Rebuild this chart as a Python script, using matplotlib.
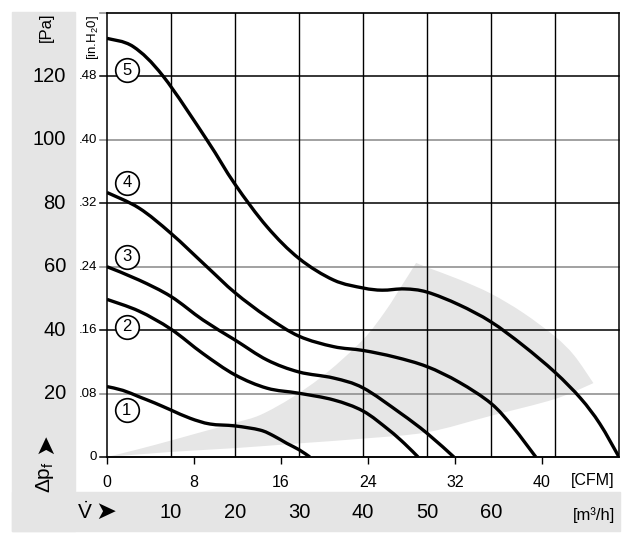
import numpy as np
import matplotlib
matplotlib.use('Agg')
import matplotlib.pyplot as plt
from matplotlib.patches import Rectangle, PathPatch
from matplotlib.path import Path

plt.rcParams['font.family'] = ['Liberation Sans', 'DejaVu Sans']
plt.rcParams['mathtext.fontset'] = 'custom'
plt.rcParams['mathtext.rm'] = 'Liberation Sans'
plt.rcParams['mathtext.it'] = 'Liberation Sans:italic'

# fan curves, x in m3/h, y in Pa
m3h_per_cfm = 1.699

c1_x = [0, 2.5, 5, 7.5, 10, 13, 16.1, 20, 23.9, 26, 28.1, 30, 31.7]
c1_y = [22.2, 21.0, 19.0, 17.0, 14.8, 12.2, 10.4, 9.8, 8.5, 6.7, 4.3, 2.3, 0]

c2_x = [0, 5, 10, 15, 20, 25, 30, 35.4, 40, 44, 46.5, 48.6]
c2_y = [49.7, 46.0, 40.3, 32.6, 25.9, 21.7, 20.1, 18.0, 14.5, 8.6, 4.2, 0]

c3_x = [0, 5, 10, 15, 20, 25, 30, 35.4, 40, 45.8, 50, 54.2]
c3_y = [60.0, 55.8, 50.6, 43.2, 36.9, 30.6, 26.8, 24.9, 21.8, 13.9, 7.5, 0]

c4_x = [0, 5, 10, 15.6, 20, 25, 30, 35.4, 40, 45, 50, 55, 60, 63.4, 67]
c4_y = [83.4, 78.5, 70.5, 60.0, 51.8, 44.2, 38.1, 34.8, 33.6, 31.5, 28.5, 23.6, 16.9, 9.5, 0]

c5_x = [0, 4.1, 8.8, 15.6, 20, 25, 30, 35.4, 40, 43, 46.5, 50, 55, 60, 65, 70, 74, 77, 80]
c5_y = [132, 129.4, 120, 100, 86, 72.6, 62.6, 55.8, 53.3, 52.6, 53.0, 52.0, 48.0, 42.6, 35.2, 26.7, 18.5, 10.5, 0]

curves_x = [c1_x, c2_x, c3_x, c4_x, c5_x]
curves_y = [c1_y, c2_y, c3_y, c4_y, c5_y]
curve_names = ['1', '2', '3', '4', '5']
name_x = [3.1, 3.1, 3.1, 3.1, 3.1]
name_y = [14.8, 41.0, 63.1, 86.4, 122.0]

# grey operating range: left edge, outer arc, lower edge
zone_left_x = [0, 5, 10, 15, 20, 24, 29.1, 34.3, 40, 43.5, 46.3, 48.3]
zone_left_y = [0, 2.5, 5.2, 8.0, 10.8, 13.3, 19, 26.5, 37, 46, 54.8, 61.2]
zone_arc_x = [48.3, 50, 55, 60, 65, 70, 73, 76]
zone_arc_y = [61.2, 59.8, 56, 51.5, 45.5, 38, 32, 23.3]
zone_low_x = [76, 70, 60, 50, 40, 30, 20, 10, 0]
zone_low_y = [23.3, 18.3, 13.0, 7.8, 5.8, 4.3, 2.8, 1.6, 0]

pa_ticks = [20, 40, 60, 80, 100, 120]
inh2o_ticks = [0, 20, 40, 60, 80, 100, 120]
inh2o_labels = ['0', '.08', '.16', '.24', '.32', '.40', '.48']
grid_pa = [0, 20, 40, 60, 80, 100, 120, 140]
grid_m3h = [10, 20, 30, 40, 50, 60, 70]
cfm_ticks = [0, 8, 16, 24, 32, 40]
m3h_labels = [10, 20, 30, 40, 50, 60]


def smooth_path(xs, ys):
    # catmull-rom through the read points, drawn as cubic bezier segments
    p = np.column_stack([xs, ys]).astype(float)
    verts = [p[0]]
    codes = [Path.MOVETO]
    n = len(p)
    for i in range(n - 1):
        p0 = p[i - 1] if i > 0 else p[i]
        p3 = p[i + 2] if i + 2 < n else p[i + 1]
        c1 = p[i] + (p[i + 1] - p0) / 6
        c2 = p[i + 1] - (p3 - p[i]) / 6
        verts += [c1, c2, p[i + 1]]
        codes += [Path.CURVE4] * 3
    return verts, codes


W, H = 642, 542
fig = plt.figure(figsize=(W / 100, H / 100), dpi=100)

def fx(x):
    return x / W

def fy(y):
    return 1 - y / H

# grey frame bands
grey = '#e5e5e5'
fig.patches.append(Rectangle((fx(12), fy(531)), 63 / W, 519 / H, transform=fig.transFigure,
                             color=grey, zorder=-2))
fig.patches.append(Rectangle((fx(12), fy(531)), 608 / W, 39 / H, transform=fig.transFigure,
                             color=grey, zorder=-2))

ax = fig.add_axes([fx(107), fy(457), 512 / W, 444 / H])
ax.set_xlim(0, 80)
ax.set_ylim(0, 140)

zv, zc = [], []
for part_x, part_y in [(zone_left_x, zone_left_y), (zone_arc_x, zone_arc_y), (zone_low_x, zone_low_y)]:
    v, c = smooth_path(part_x, part_y)
    if zv:
        v, c = v[1:], c[1:]
    zv += v
    zc += c
zv.append(zv[0])
zc.append(Path.CLOSEPOLY)
ax.add_patch(PathPatch(Path(zv, zc), facecolor='#e6e6e6', lw=0, zorder=0.5))

for i, v in enumerate(grid_pa):
    col = '#888888' if i % 2 == 1 else 'black'
    ax.axhline(v, xmin=-0.014, xmax=1, color=col, lw=1.1, clip_on=False, zorder=1)
for v in grid_m3h:
    ax.axvline(v, color='black', lw=1.0, zorder=1)

for xs, ys in zip(curves_x, curves_y):
    v, c = smooth_path(xs, ys)
    ax.add_patch(PathPatch(Path(v, c), facecolor='none', edgecolor='black', lw=2.4,
                           capstyle='butt', zorder=3))

ax.plot(name_x, name_y, 'o', ms=17, mfc='white', mec='black', mew=1.2, zorder=4)
for n, x, y in zip(curve_names, name_x, name_y):
    ax.text(x, y, n, ha='center', va='center', fontsize=12, zorder=5)

for s in ax.spines.values():
    s.set_linewidth(1.1)

ax.set_yticks([])
ax.set_xticks(np.array(cfm_ticks) * m3h_per_cfm, labels=[str(c) for c in cfm_ticks])
ax.tick_params(axis='x', direction='out', length=5, width=1, pad=8, labelsize=11.5)

ytr = ax.get_yaxis_transform()
for v in pa_ticks:
    ax.text((66 - 107) / 512, v, str(v), transform=ytr, ha='right', va='center', fontsize=14.5)
for v, lab in zip(inh2o_ticks, inh2o_labels):
    ax.text((97 - 107) / 512, v, lab, transform=ytr, ha='right', va='center', fontsize=9.5)

xtr = ax.get_xaxis_transform()
for v in m3h_labels:
    ax.text(v, (457 - 512) / 444, str(v), transform=xtr, ha='center', va='center', fontsize=14.5)

fig.text(fx(46), fy(27), '[Pa]', rotation=90, ha='center', va='center', fontsize=12)
fig.text(fx(93), fy(38), '[in.H$_2$0]', rotation=90, ha='center', va='center', fontsize=9.5)
fig.text(fx(45), fy(477), r'$\Delta$p$_\mathrm{f}$', rotation=90, ha='center', va='center', fontsize=15)
fig.text(fx(45), fy(444), '\u27a4', rotation=90, ha='center', va='center', fontsize=18,
         family=['DejaVu Sans'])
fig.text(fx(85), fy(512), r'$\dot{\mathrm{V}}$', ha='center', va='center', fontsize=15)
fig.text(fx(106), fy(512), '\u27a4', ha='center', va='center', fontsize=18, family=['DejaVu Sans'])
fig.text(fx(615), fy(481), '[CFM]', ha='right', va='center', fontsize=11.5)
fig.text(fx(615), fy(515), '[m\u00b3/h]', ha='right', va='center', fontsize=12)

fig.savefig('out.png', dpi=100)
